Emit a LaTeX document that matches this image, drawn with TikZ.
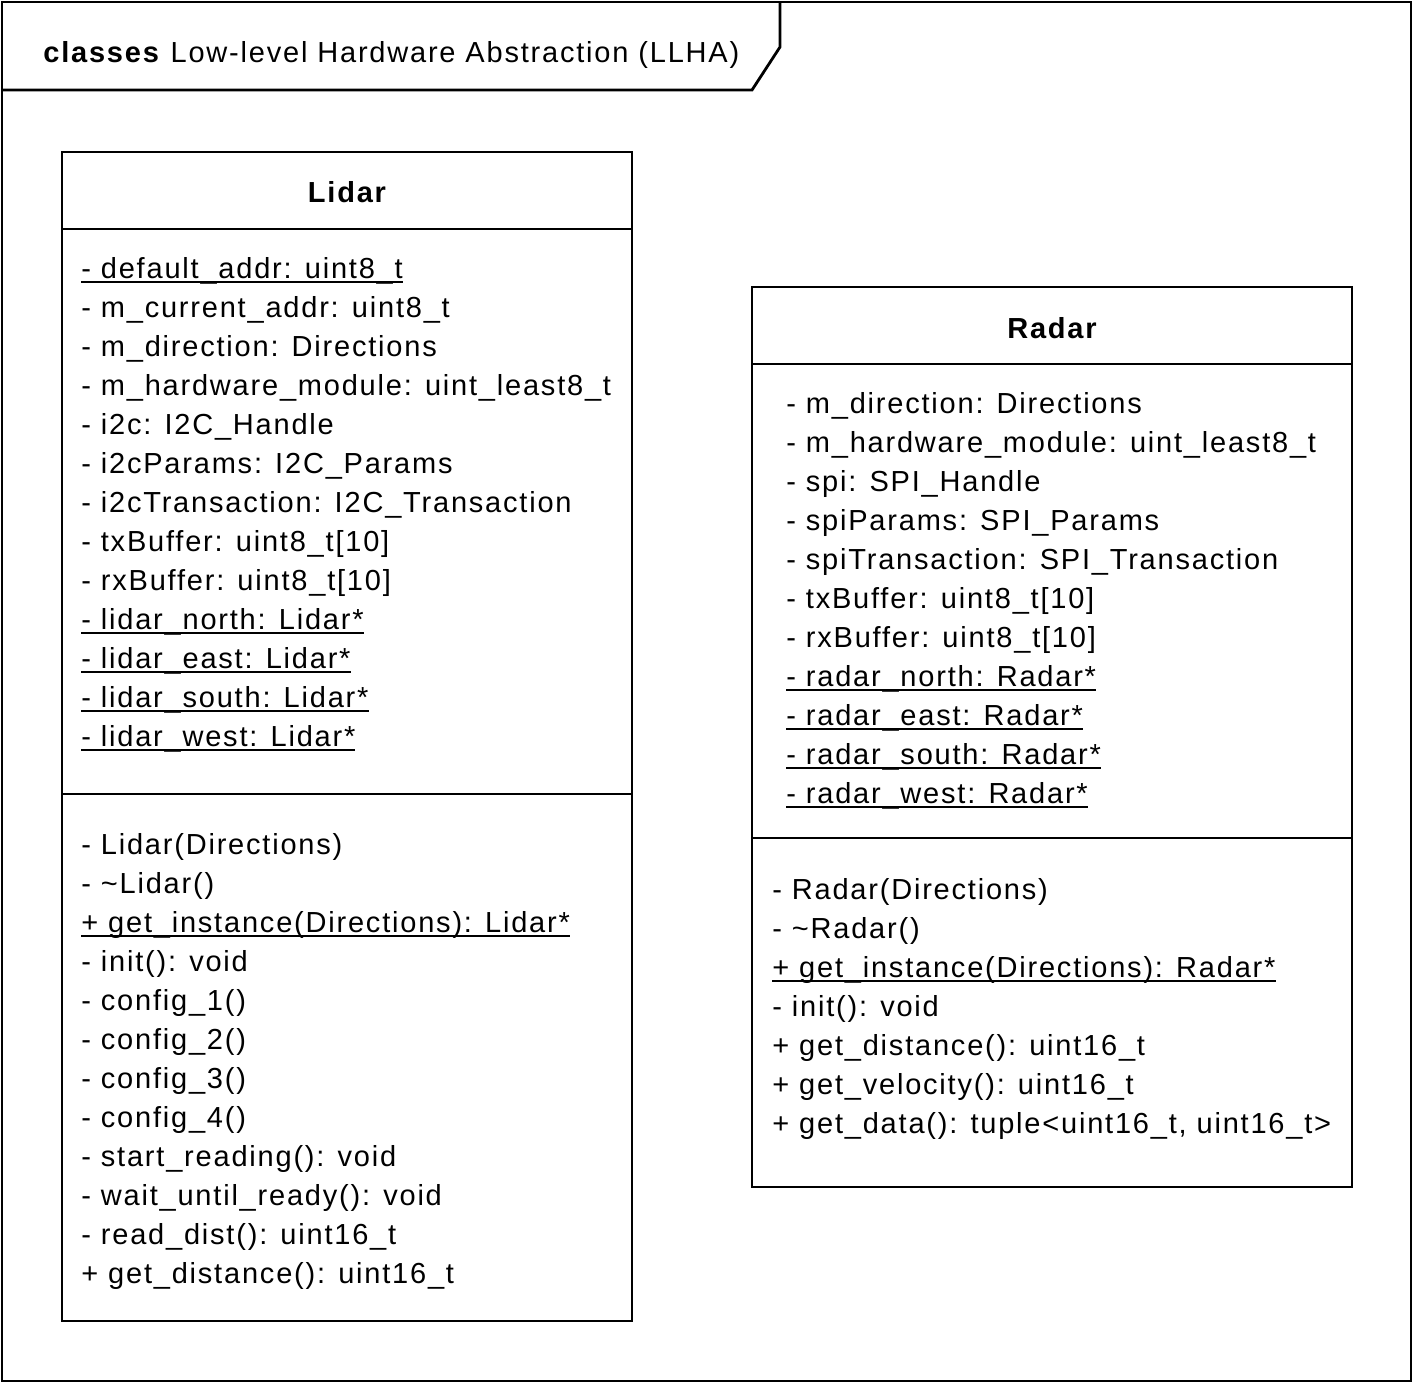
\documentclass[tikz,border=0pt]{standalone}
\usepackage{fontspec}
\setmainfont[LetterSpace=6.2]{Liberation Sans}
\newcommand\ulx[1]{\setbox0\hbox{#1}\leavevmode\rlap{\rule[-2.6pt]{\wd0}{0.9pt}}\box0}
\begin{document}
\begin{tikzpicture}[x=0.5pt,y=-0.5pt,
  frame/.style={draw=black,line width=1.4pt},
  member/.style={anchor=base west,inner sep=0pt,font=\fontsize{14.5pt}{17pt}\selectfont},
  ctitle/.style={anchor=base,inner sep=0pt,font=\fontsize{14.5pt}{17pt}\selectfont\bfseries}]
\useasboundingbox (0,0) rectangle (1413,1383);
% outer frame
\draw[frame] (2,2) rectangle (1411,1381);
\draw[frame] (2,90) -- (752,90) -- (780,47) -- (780,2);
\node[member] (title) at (43,62) {\textbf{classes} Low-level Hardware Abstraction (LLHA)};
% Lidar
\draw[frame] (62,152) rectangle (632,1321);
\draw[frame] (62,229) -- (632,229);
\draw[frame] (62,794) -- (632,794);
\node[ctitle] (lidar) at (347,202) {Lidar};
\foreach \t [count=\i from 0] in {
  {\ulx{- default\_addr: uint8\_t}},
  {- m\_current\_addr: uint8\_t},
  {- m\_direction: Directions},
  {- m\_hardware\_module: uint\_least8\_t},
  {- i2c: I2C\_Handle},
  {- i2cParams: I2C\_Params},
  {- i2cTransaction: I2C\_Transaction},
  {- txBuffer: uint8\_t[10]},
  {- rxBuffer: uint8\_t[10]},
  {\ulx{- lidar\_north: Lidar*}},
  {\ulx{- lidar\_east: Lidar*}},
  {\ulx{- lidar\_south: Lidar*}},
  {\ulx{- lidar\_west: Lidar*}}}
  \node[member] (la\i) at (81,{278+39*\i}) {\t};
\foreach \t [count=\i from 0] in {
  {- Lidar(Directions)},
  {- \textasciitilde Lidar()},
  {\ulx{+ get\_instance(Directions): Lidar*}},
  {- init(): void},
  {- config\_1()},
  {- config\_2()},
  {- config\_3()},
  {- config\_4()},
  {- start\_reading(): void},
  {- wait\_until\_ready(): void},
  {- read\_dist(): uint16\_t},
  {+ get\_distance(): uint16\_t}}
  \node[member] (lm\i) at (81,{854+39*\i}) {\t};
% Radar
\draw[frame] (752,287) rectangle (1352,1187);
\draw[frame] (752,364) -- (1352,364);
\draw[frame] (752,838) -- (1352,838);
\node[ctitle] (radar) at (1052,338) {Radar};
\foreach \t [count=\i from 0] in {
  {- m\_direction: Directions},
  {- m\_hardware\_module: uint\_least8\_t},
  {- spi: SPI\_Handle},
  {- spiParams: SPI\_Params},
  {- spiTransaction: SPI\_Transaction},
  {- txBuffer: uint8\_t[10]},
  {- rxBuffer: uint8\_t[10]},
  {\ulx{- radar\_north: Radar*}},
  {\ulx{- radar\_east: Radar*}},
  {\ulx{- radar\_south: Radar*}},
  {\ulx{- radar\_west: Radar*}}}
  \node[member] (ra\i) at (786,{413+39*\i}) {\t};
\foreach \t [count=\i from 0] in {
  {- Radar(Directions)},
  {- \textasciitilde Radar()},
  {\ulx{+ get\_instance(Directions): Radar*}},
  {- init(): void},
  {+ get\_distance(): uint16\_t},
  {+ get\_velocity(): uint16\_t},
  {+ get\_data(): tuple<uint16\_t, uint16\_t>}}
  \node[member] (rm\i) at (772,{899+39*\i}) {\t};
\end{tikzpicture}
\end{document}
